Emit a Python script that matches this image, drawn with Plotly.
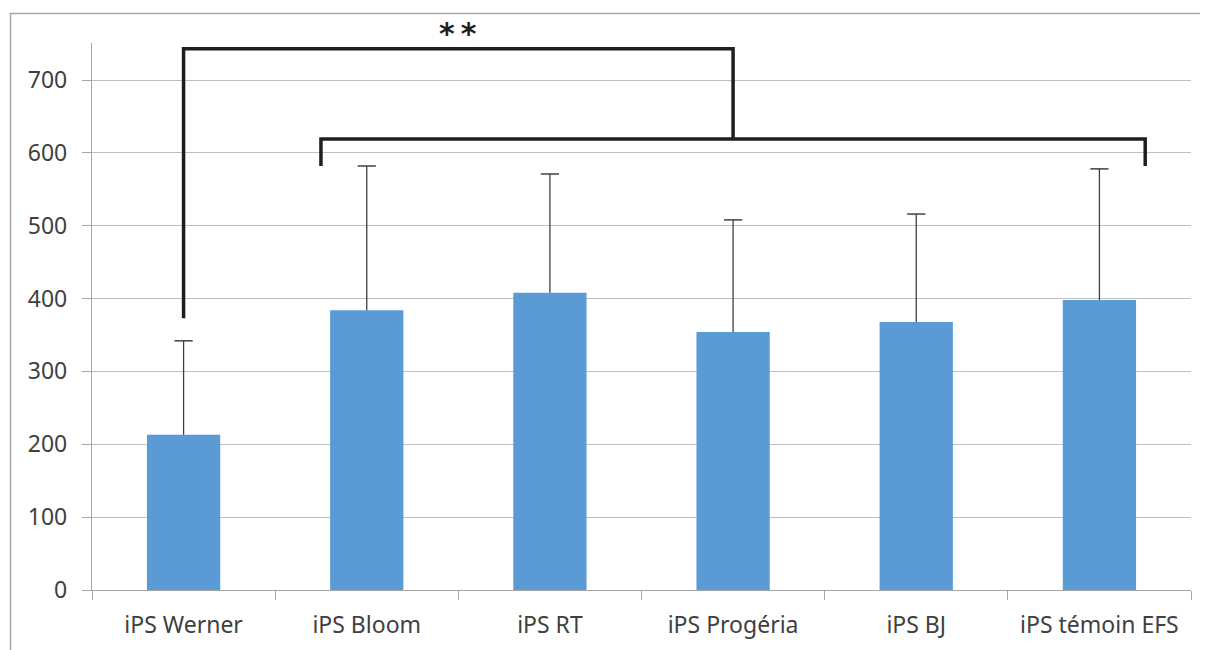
import plotly.graph_objects as go

categories = ["iPS Werner", "iPS Bloom", "iPS RT", "iPS Progéria", "iPS BJ", "iPS témoin EFS"]
means = [213, 384, 408, 354, 368, 398]
errors_up = [129, 198, 163, 154, 148, 180]
y_ticks = [0, 100, 200, 300, 400, 500, 600, 700]

# significance bracket values (data units)
bracket_top = 743
bracket_left_bottom = 373
bracket_low = 619
bracket_low_ends = 582
sig_label = "**"

OFF = 8  # page body margin
W, H = 1200, 642
ml, mr, mt, mb = 92 - OFF, 17, 43 - OFF, 60
pw = W - ml - mr
ph = H - mt - mb

def px_to_paper_x(px):
    return (px - OFF - ml) / pw

def px_to_paper_y(py):
    return (H - mb - (py - OFF)) / ph

fig = go.Figure()
fig.add_trace(go.Bar(
    x=categories, y=means,
    marker=dict(color="#5B9BD5", line=dict(width=0)),
    width=0.4,
    error_y=dict(type="data", array=errors_up, arrayminus=[0] * len(means),
                 symmetric=False, color="#404040", thickness=1.3, width=0),
))
# caps at top of error bars only
fig.add_trace(go.Scatter(
    x=categories, y=[m + e for m, e in zip(means, errors_up)],
    mode="markers",
    marker=dict(symbol="line-ew", size=13, line=dict(color="#404040", width=1.5)),
    hoverinfo="skip",
))

line_style = dict(color="#1F1F1F", width=3.5)
shapes = []
shapes.append(dict(type="path", xref="x", yref="y",
                   path=f"M 0 {bracket_left_bottom} L 0 {bracket_top} L 3 {bracket_top} L 3 {bracket_low}",
                   line=line_style))
shapes.append(dict(type="path", xref="x", yref="y",
                   path=f"M 0.75 {bracket_low_ends} L 0.75 {bracket_low} L 5.25 {bracket_low} L 5.25 {bracket_low_ends}",
                   line=line_style))
# outer chart border
shapes.append(dict(type="rect", xref="paper", yref="paper",
                   x0=px_to_paper_x(10.5), x1=px_to_paper_x(1230),
                   y0=px_to_paper_y(680), y1=px_to_paper_y(13.5),
                   line=dict(color="#A6A6A6", width=1.5), fillcolor="rgba(0,0,0,0)", layer="below"))

fig.update_layout(
    width=W, height=H,
    margin=dict(l=ml, r=mr, t=mt, b=mb),
    paper_bgcolor="white", plot_bgcolor="white",
    showlegend=False,
    shapes=shapes,
    font=dict(family="Noto Sans", size=23, color="#404040"),
    annotations=[dict(x=1.5, y=px_to_paper_y(34), xref="x", yref="paper",
                      text="<b>" + "\u2009".join(sig_label) + "</b>",
                      showarrow=False, font=dict(family="DejaVu Sans", size=30, color="#1F1F1F"),
                      xanchor="center", yanchor="middle")],
)
fig.update_xaxes(
    type="category", showline=True, linecolor="#A6A6A6", linewidth=1.3,
    ticks="outside", tickson="boundaries", ticklen=9, tickcolor="#A6A6A6",
    tickwidth=1.3, showgrid=False, ticklabelstandoff=14, automargin=False,
    tickfont=dict(family="Noto Sans", size=23, color="#404040"),
)
fig.update_yaxes(
    range=[0, 750.8], tickvals=y_ticks, showline=True, linecolor="#A6A6A6",
    linewidth=1.3, ticks="outside", ticklen=9, tickcolor="#A6A6A6", tickwidth=1.3,
    showgrid=True, gridcolor="#BFBFBF", gridwidth=1.3, zeroline=False,
    ticklabelstandoff=10, automargin=False,
    tickfont=dict(family="Noto Sans", size=23, color="#404040"),
)

fig.write_html("out.html")
